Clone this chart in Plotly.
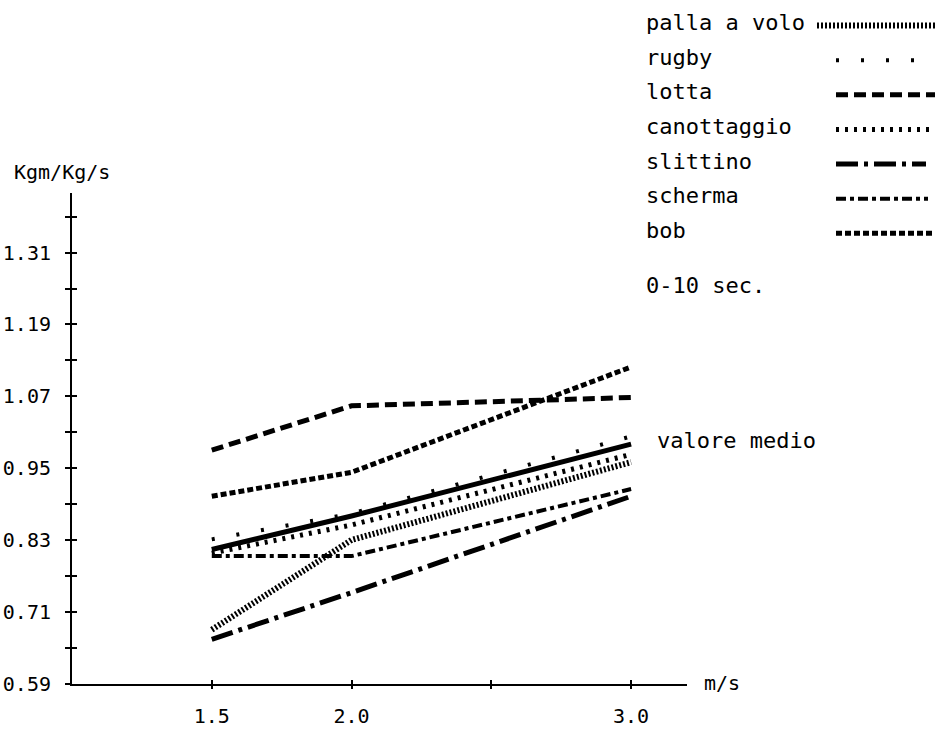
import plotly.graph_objects as go

# ---- data ----
speeds = [1.5, 2.0, 3.0]
palla_a_volo = [0.680, 0.830, 0.960]
rugby = [0.831, 0.874, 1.003]
lotta = [0.980, 1.054, 1.068]
canottaggio = [0.808, 0.855, 0.973]
slittino = [0.664, 0.742, 0.903]
scherma = [0.803, 0.803, 0.915]
bob = [0.903, 0.943, 1.119]
valore_medio = [0.814, 0.870, 0.990]

x_tickvals = [1.5, 2.0, 2.5, 3.0]
x_ticktext = ["1.5", "2.0", "", "3.0"]
y_tickvals = [0.59, 0.71, 0.83, 0.95, 1.07, 1.19, 1.31]
y_ticktext = ["0.59", "0.71", "0.83", "0.95", "1.07", "1.19", "1.31"]

series_names = ["palla a volo", "rugby", "lotta", "canottaggio", "slittino", "scherma", "bob"]
series_values = [palla_a_volo, rugby, lotta, canottaggio, slittino, scherma, bob]

# ---- styles ----
W, H = 943, 731
FONT = "DejaVu Sans Mono"
styles = {
    "palla a volo": dict(width=6, dash="2px,2px", key=(817, 935)),
    "rugby": dict(width=4, dash="3px,22px", key=(836, 935)),
    "lotta": dict(width=5, dash="12px,6px", key=(836, 935)),
    "canottaggio": dict(width=5, dash="3px,6px", key=(836, 935)),
    "slittino": dict(width=5, dash="22px,6px,4px,6px", key=(836, 926)),
    "scherma": dict(width=4, dash="10px,4px,4px,4px", key=(836, 928)),
    "bob": dict(width=5, dash="6px,3px", key=(836, 935)),
}

def px_x(p):
    return p / W

def px_y(p):
    return (H - p) / H

X_DOMAIN = [px_x(72), px_x(687)]
Y_DOMAIN = [px_y(695), px_y(196)]
X_RANGE = [1.0, 3.2]
Y_RANGE = [0.59, 1.41]

fig = go.Figure()

for name, vals in zip(series_names, series_values):
    st = styles[name]
    fig.add_trace(go.Scatter(x=speeds, y=vals, mode="lines", name=name,
                             line=dict(color="black", width=st["width"], dash=st["dash"]),
                             xaxis="x", yaxis="y", showlegend=False))

fig.add_trace(go.Scatter(x=speeds, y=valore_medio, mode="lines", name="valore medio",
                         line=dict(color="black", width=5), showlegend=False))

# legend keys on their own small axes (axis units = pixels)
row0, row_step = 23, 35.2
for i, name in enumerate(series_names):
    st = styles[name]
    yk = row0 + i * row_step + 3
    fig.add_trace(go.Scatter(x=list(st["key"]), y=[yk, yk], mode="lines",
                             line=dict(color="black", width=st["width"], dash=st["dash"]),
                             xaxis="x2", yaxis="y2", showlegend=False, hoverinfo="skip"))

annotations = []
for i, name in enumerate(series_names):
    yt = row0 + i * row_step
    annotations.append(dict(text=name, x=px_x(644), y=px_y(yt), xref="paper", yref="paper",
                            xanchor="left", yanchor="middle", showarrow=False,
                            font=dict(family=FONT, size=22, color="black")))
annotations += [
    dict(text="0-10 sec.", x=px_x(644), y=px_y(290), xref="paper", yref="paper",
         xanchor="left", yanchor="middle", showarrow=False,
         font=dict(family=FONT, size=22, color="black")),
    dict(text="valore medio", x=px_x(655), y=px_y(448), xref="paper", yref="paper",
         xanchor="left", yanchor="middle", showarrow=False,
         font=dict(family=FONT, size=22, color="black")),
    dict(text="Kgm/Kg/s", x=px_x(12), y=px_y(175), xref="paper", yref="paper",
         xanchor="left", yanchor="middle", showarrow=False,
         font=dict(family=FONT, size=20, color="black")),
    dict(text="m/s", x=px_x(702), y=px_y(694), xref="paper", yref="paper",
         xanchor="left", yanchor="middle", showarrow=False,
         font=dict(family=FONT, size=20, color="black")),
]

fig.update_layout(
    width=W, height=H,
    margin=dict(l=0, r=0, t=0, b=0),
    paper_bgcolor="white", plot_bgcolor="white",
    font=dict(family=FONT, size=20, color="black"),
    xaxis=dict(domain=X_DOMAIN, range=X_RANGE,
               showgrid=False, zeroline=False, showline=True, linecolor="black", linewidth=1.5,
               tickvals=x_tickvals, ticktext=x_ticktext, ticks="outside", ticklen=4,
               tickwidth=1.5, tickcolor="black", ticklabelstandoff=10,
               tickfont=dict(family=FONT, size=20), anchor="y"),
    yaxis=dict(domain=Y_DOMAIN, range=Y_RANGE,
               showgrid=False, zeroline=False, showline=True, linecolor="black", linewidth=2,
               tickvals=y_tickvals, ticktext=y_ticktext, ticks="outside", ticklen=5,
               tickwidth=2, tickcolor="black", ticklabelstandoff=10,
               minor=dict(dtick=0.06, tick0=0.59, ticks="outside", ticklen=5,
                          tickwidth=2, tickcolor="black", showgrid=False),
               tickfont=dict(family=FONT, size=20), anchor="x"),
    # duplicate axes giving the inner half of the crossing tick marks
    xaxis3=dict(overlaying="x", domain=X_DOMAIN, range=X_RANGE, anchor="y",
                side="bottom", showgrid=False, zeroline=False, showline=False,
                tickvals=x_tickvals, showticklabels=False, ticks="inside", ticklen=4,
                tickwidth=1.5, tickcolor="black"),
    yaxis3=dict(overlaying="y", domain=Y_DOMAIN, range=Y_RANGE, anchor="x",
                side="left", showgrid=False, zeroline=False, showline=False,
                tickvals=y_tickvals, showticklabels=False, ticks="inside", ticklen=5,
                tickwidth=2, tickcolor="black",
                minor=dict(dtick=0.06, tick0=0.59, ticks="inside", ticklen=5,
                           tickwidth=2, tickcolor="black", showgrid=False)),
    xaxis2=dict(domain=[px_x(815), px_x(937)], range=[815, 937], visible=False, anchor="y2"),
    yaxis2=dict(domain=[px_y(260), px_y(5)], range=[260, 5], visible=False, anchor="x2"),
    annotations=annotations,
    showlegend=False,
)

# empty trace so the tick-only overlay axes are drawn
fig.add_trace(go.Scatter(x=[], y=[], xaxis="x3", yaxis="y3", showlegend=False, hoverinfo="skip"))

fig.write_html("out.html", config={"displayModeBar": False},
               post_script="document.body.style.margin='0';document.body.style.overflow='hidden';document.documentElement.style.overflow='hidden';")
